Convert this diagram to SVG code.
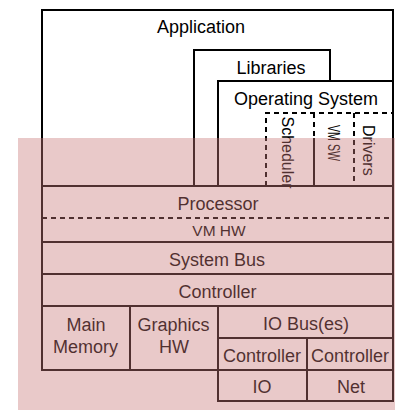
<svg xmlns="http://www.w3.org/2000/svg" width="395" height="410" viewBox="0 0 395 410">
<style>
.b{fill:none;stroke:#000;stroke-width:2}
.d{fill:none;stroke:#000;stroke-width:2;stroke-dasharray:5 4}
text{font-family:"Liberation Sans",Arial,sans-serif;font-size:18px;fill:#000;text-anchor:middle}
.v{font-size:16px;text-anchor:start}
.s{font-size:15.5px}
</style>
<rect width="395" height="410" fill="#fff"/>
<g id="application">
<path class="b" d="M42,186V10H393V81"/>
<text x="201" y="33">Application</text>
</g>
<g id="libraries">
<path class="b" d="M194,186V50H330V81"/>
<text x="271" y="74">Libraries</text>
</g>
<g id="os">
<path class="b" d="M218,186V81H393V186"/>
<text x="306" y="105">Operating System</text>
</g>
<g id="scheduler">
<path class="d" d="M266,186V113H393"/>
<text class="v" transform="translate(288,116.5) rotate(90)" x="0" y="5.7">Scheduler</text>
</g>
<g id="vmsw">
<path class="d" d="M314,113V138"/>
<path class="b" d="M314,138V186"/>
<text class="v" style="font-size:17px" transform="translate(334,125) rotate(90)" x="0" y="6" textLength="36" lengthAdjust="spacingAndGlyphs">VM SW</text>
</g>
<g id="drivers">
<path class="d" d="M354,113V186"/>
<text class="v" transform="translate(369,125) rotate(90)" x="0" y="5.7">Drivers</text>
</g>
<g id="processor">
<rect class="b" x="42" y="186" width="351" height="56"/>
<path class="d" d="M42,218H393"/>
<text x="218" y="210">Processor</text>
<text class="s" x="219" y="236">VM HW</text>
</g>
<g id="systembus">
<rect class="b" x="42" y="242" width="351" height="32"/>
<text x="217" y="266">System Bus</text>
</g>
<g id="controller">
<rect class="b" x="42" y="274" width="351" height="32"/>
<text x="217.5" y="297.5">Controller</text>
</g>
<g id="mainmemory">
<rect class="b" x="42" y="306" width="88" height="64"/>
<text x="86" y="330.5">Main</text>
<text x="85.5" y="353">Memory</text>
</g>
<g id="graphics">
<rect class="b" x="130" y="306" width="88" height="64"/>
<text x="173.5" y="330.5">Graphics</text>
<text x="174" y="353">HW</text>
</g>
<g id="iobus">
<rect class="b" x="218" y="306" width="175" height="32"/>
<text x="306" y="330">IO Bus(es)</text>
</g>
<g id="controller-io">
<rect class="b" x="218" y="338" width="89" height="32"/>
<text x="262" y="361.5">Controller</text>
</g>
<g id="controller-net">
<rect class="b" x="307" y="338" width="86" height="32"/>
<text x="350" y="361.5">Controller</text>
</g>
<g id="io">
<rect class="b" x="218" y="370" width="89" height="31"/>
<text x="262" y="393">IO</text>
</g>
<g id="net">
<rect class="b" x="307" y="370" width="86" height="31"/>
<text x="351" y="393">Net</text>
</g>
<rect id="hardware-overlay" x="18" y="138" width="377" height="272" fill="#c87878" opacity="0.4"/>
</svg>
